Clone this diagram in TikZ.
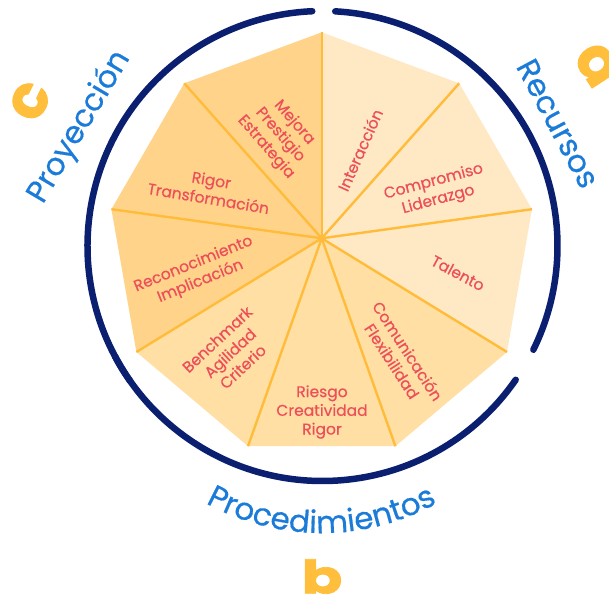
\documentclass[tikz,border=0pt]{standalone}
\usepackage{fontspec}
\setmainfont{Poppins}
\newfontfamily\popmed[FakeBold=0.5]{Poppins}
\newfontfamily\popheavy[BoldFeatures={FakeBold=1.5}]{Poppins}
\usetikzlibrary{decorations.text}
\definecolor{navy}{HTML}{0B1F70}
\definecolor{lblue}{HTML}{1B7BD8}
\definecolor{tred}{HTML}{EC4F5A}
\definecolor{spokec}{HTML}{FFBC3A}
\definecolor{segL}{HTML}{FFE8C4}
\definecolor{segM}{HTML}{FFDFA3}
\definecolor{segD}{HTML}{FFD48A}
\definecolor{letc}{HTML}{FFBE3C}
\tikzset{
  spoke/.style={draw=spokec, line width=2.4pt},
  ring/.style={draw=navy, line width=6.5pt, line cap=round},
  segtext/.style={font=\popmed\fontsize{15.5}{18.7}\selectfont, text=tred, align=center, inner sep=0pt},
  bluelab/.style={font=\popmed\fontsize{31}{31}\selectfont, text=lblue, inner sep=0pt},
  letter/.style={font=\popheavy\bfseries\fontsize{60}{60}\selectfont, text=letc, inner sep=0pt},
}
\begin{document}
\begin{tikzpicture}[x=1pt,y=1pt]
\useasboundingbox (0,0) rectangle (609,608);
\coordinate (O) at (321.7,369.7);
\coordinate (C) at (322.5,362);
\coordinate (V0) at (321.7,575.7);
\coordinate (V1) at (459.2,524.7);
\coordinate (V2) at (532,398.8);
\coordinate (V3) at (507,256);
\coordinate (V4) at (395.4,161.8);
\coordinate (V5) at (248,161.8);
\coordinate (V6) at (136.4,256);
\coordinate (V7) at (111.4,398.8);
\coordinate (V8) at (184.2,524.7);
% segments
\fill[segL] (O) -- (V0) -- (V1) -- cycle;
\fill[segL] (O) -- (V1) -- (V2) -- cycle;
\fill[segL] (O) -- (V2) -- (V3) -- cycle;
\fill[segM] (O) -- (V3) -- (V4) -- cycle;
\fill[segM] (O) -- (V4) -- (V5) -- cycle;
\fill[segM] (O) -- (V5) -- (V6) -- cycle;
\fill[segD] (O) -- (V6) -- (V7) -- cycle;
\fill[segD] (O) -- (V7) -- (V8) -- cycle;
\fill[segD] (O) -- (V8) -- (V0) -- cycle;
% spokes
\foreach \v in {V0,V1,V2,V3,V4,V5,V6,V7,V8} \draw[spoke] (O) -- (\v);
% ring arcs
\draw[ring] (C) ++(86.9:235) arc[start angle=86.9, end angle=-26.2, radius=235];
\draw[ring] (C) ++(-34.7:235) arc[start angle=-34.7, end angle=-152, radius=235];
\draw[ring] (C) ++(215.1:235) arc[start angle=215.1, end angle=92.5, radius=235];
% segment texts
\node[segtext, rotate=66] (t0) at (360,458) {Interacción};
\node[segtext, rotate=15] (t1) at (436,417) {Compromiso\\Liderazgo};
\node[segtext, rotate=-28] (t2) at (458,335) {Talento};
\node[segtext, rotate=-57] (t3) at (400,252) {Comunicación\\Flexibilidad};
\node[segtext] (t4) at (322,196) {Riesgo\\Creatividad\\Rigor};
\node[segtext, rotate=43] (t5) at (230,255) {Benchmark\\Agilidad\\Criterio};
\node[segtext, rotate=22] (t6) at (197,335) {Reconocimiento\\Implicación};
\node[segtext, rotate=-9.5] (t7) at (210,419) {Rigor\\Transformación};
\node[segtext, rotate=-49] (t8) at (280,473) {Mejora\\Prestigio\\Estrategia};
% blue labels
\node[bluelab, rotate=-62] (recursos) at (558,484.5) {Recursos};
\node[bluelab, rotate=59.3] (proyeccion) at (79.5,481) {Proyección};
\path[decorate, decoration={text along path, text align=center,
  text={|\popmed\fontsize{31}{31}\selectfont\color{lblue}|Procedimientos}}]
  (321.5,314) ++(225:239) arc[start angle=225, end angle=315, radius=239];
% letters
\node[letter, rotate=-57] (la) at (597,543) {a};
\node[letter, font=\popheavy\bfseries\fontsize{46}{46}\selectfont, xscale=1.3] (lb) at (322,31.5) {b};
\node[letter, rotate=63.6] (lc) at (30,507) {c};
\end{tikzpicture}
\end{document}
